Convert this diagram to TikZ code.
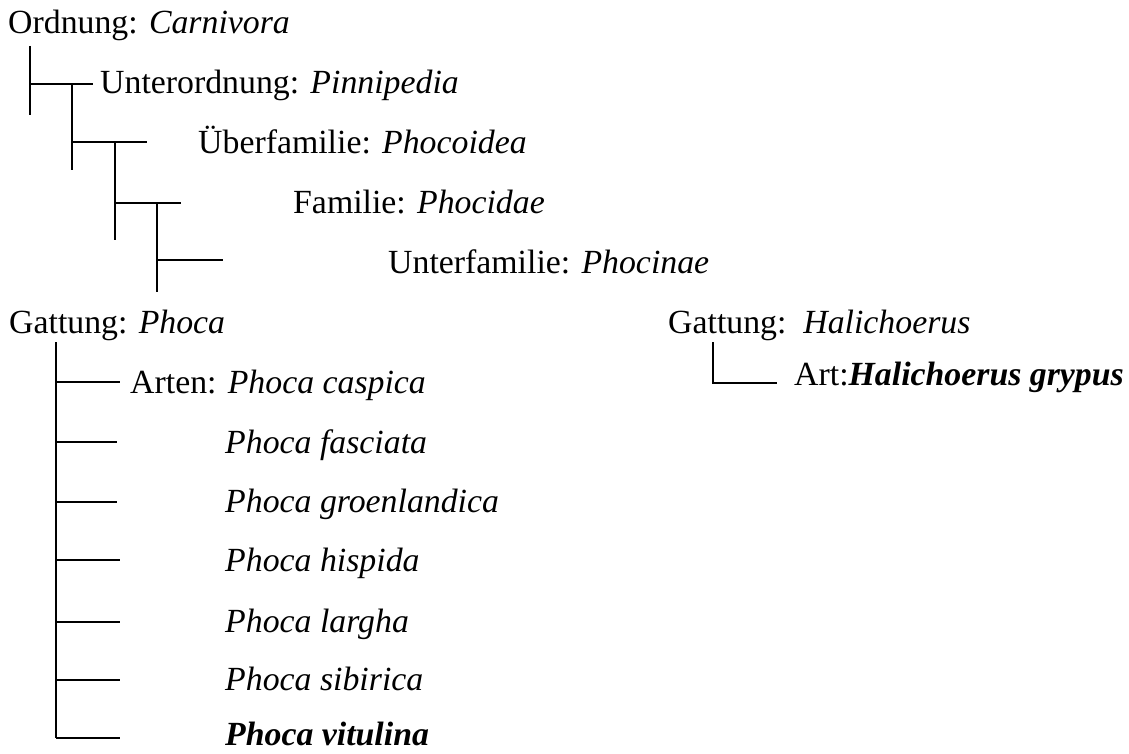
\documentclass[tikz,border=0pt]{standalone}
\usepackage{fontspec}
\setmainfont{Liberation Serif}
\begin{document}
\begin{tikzpicture}[x=1pt,y=-1pt,
  lbl/.style={anchor=base west,inner sep=0pt,font=\fontsize{33.8}{40}\selectfont},
  ln/.style={line width=1.7pt}]
\useasboundingbox (0,0) rectangle (1129,754);
% labels
\node[lbl] (ord) at (8,34) {Ordnung: \textit{Carnivora}};
\node[lbl] (uord) at (100,94) {Unterordnung: \textit{Pinnipedia}};
\node[lbl] (ufam) at (198,154) {Überfamilie: \textit{Phocoidea}};
\node[lbl] (fam) at (293,214) {Familie: \textit{Phocidae}};
\node[lbl] (unfam) at (388,273) {Unterfamilie: \textit{Phocinae}};
\node[lbl] (gph) at (9,333) {Gattung: \textit{Phoca}};
\node[lbl] (arten) at (130,393) {Arten: \textit{Phoca caspica}};
\node[lbl] (s2) at (225,453) {\textit{Phoca fasciata}};
\node[lbl] (s3) at (225,512) {\textit{Phoca groenlandica}};
\node[lbl] (s4) at (225,571) {\textit{Phoca hispida}};
\node[lbl] (s5) at (225,632) {\textit{Phoca largha}};
\node[lbl] (s6) at (225,690) {\textit{Phoca sibirica}};
\node[lbl] (s7) at (225,745) {\textbf{\textit{Phoca vitulina}}};
\node[lbl] (gha) at (668,333) {Gattung:\ \ \textit{Halichoerus}};
\node[lbl] (art) at (794,385) {Art:\textbf{\textit{Halichoerus grypus}}};
% tree connectors
\coordinate (a1) at (30,46); \coordinate (a2) at (30,115);
\coordinate (h1) at (30,84); \coordinate (h1e) at (93,84);
\coordinate (b1) at (72,84); \coordinate (b2) at (72,170);
\coordinate (h2) at (72,142); \coordinate (h2e) at (147,142);
\coordinate (c1) at (115,142); \coordinate (c2) at (115,240);
\coordinate (h3) at (115,203); \coordinate (h3e) at (181,203);
\coordinate (d1) at (157,203); \coordinate (d2) at (157,292);
\coordinate (h4) at (157,260); \coordinate (h4e) at (223,260);
\draw[ln] (a1) -- (a2);
\draw[ln] (h1) -- (h1e);
\draw[ln] (b1) -- (b2);
\draw[ln] (h2) -- (h2e);
\draw[ln] (c1) -- (c2);
\draw[ln] (h3) -- (h3e);
\draw[ln] (d1) -- (d2);
\draw[ln] (h4) -- (h4e);
% Phoca
\coordinate (p0) at (56,342); \coordinate (p7) at (56,738);
\draw[ln] (p0) -- (p7);
\foreach \yy/\xe in {382/120,442/117,502/117,560/120,622/120,680/120,738/120}{
  \draw[ln] (56,\yy) -- (\xe,\yy);
}
% Halichoerus
\coordinate (q0) at (713,342); \coordinate (q1) at (713,383); \coordinate (q2) at (777,383);
\draw[ln] (q0) -- (q1) -- (q2);
\end{tikzpicture}
\end{document}
